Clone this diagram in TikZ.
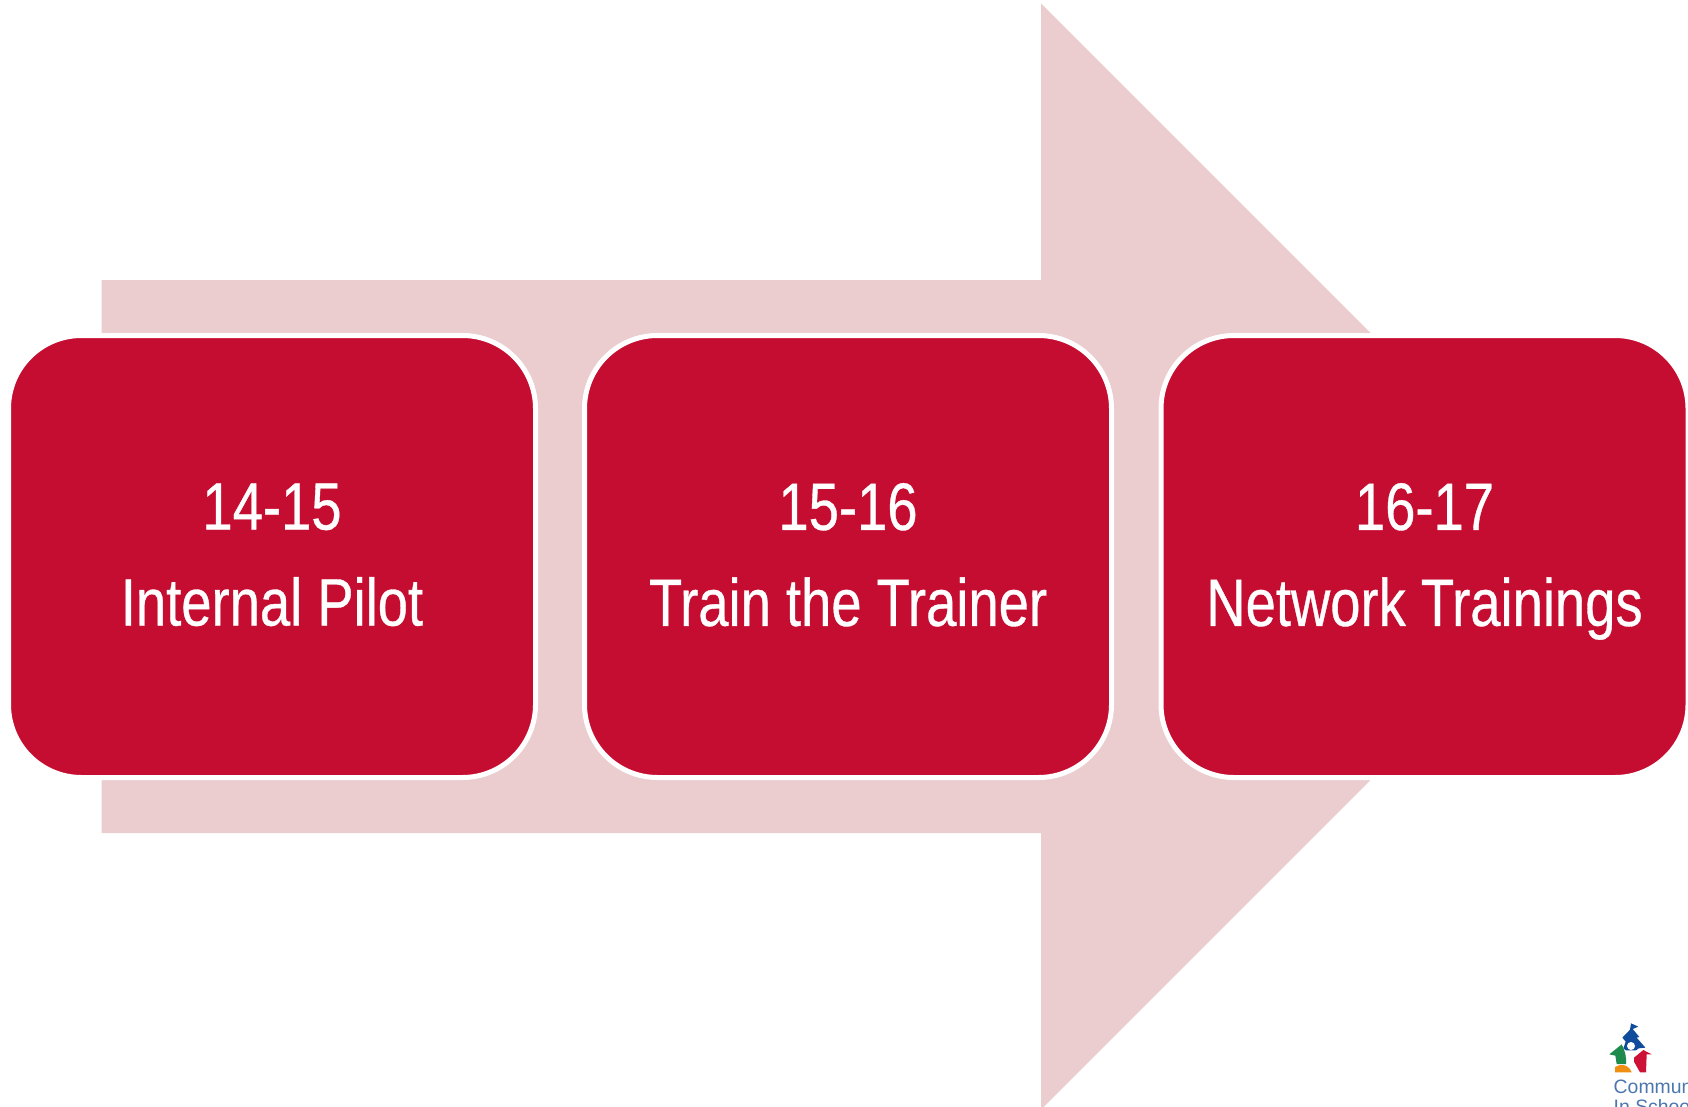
\documentclass[tikz,border=0pt]{standalone}
\usepackage{fontspec}
\setmainfont{Liberation Sans}
\newfontfamily\boxfont[FakeStretch=0.812,FakeBold=0.5]{Liberation Sans}
\newcommand{\boxlines}[2]{#1\\\smash{#2}\rule[-4pt]{0pt}{0pt}}
\definecolor{boxred}{HTML}{C50D31}
\definecolor{arrowpink}{HTML}{EBCDCF}
\definecolor{logoblue}{HTML}{0F4C9C}
\definecolor{logogreen}{HTML}{1E8A4C}
\definecolor{logored}{HTML}{CE1237}
\definecolor{logoorange}{HTML}{EE8F13}
\definecolor{logotext}{HTML}{4B76AE}
\tikzset{
  x=1pt,y=-1pt,
  stagebox/.style={draw=white,line width=5pt,fill=boxred,rounded corners=73pt,
    minimum width=527pt,minimum height=442pt,inner sep=0pt,text=white,
    align=center,font=\boxfont\fontsize{67}{96}\selectfont},
  logotxt/.style={anchor=base west,inner sep=0pt,text=logotext,font=\fontsize{19.4}{20}\selectfont},
}
\begin{document}
\begin{tikzpicture}
\useasboundingbox (0,0) rectangle (1688,1107);
\clip (0,0) rectangle (1688,1107);
\fill[arrowpink] (101.5,280) -- (1041,280) -- (1041,3.5) -- (1594,556.5)
  -- (1041,1109.5) -- (1041,833) -- (101.5,833) -- cycle;
\node[stagebox] (a) at (272,556.5) {\boxlines{14-15}{Internal Pilot}};
\node[stagebox] (b) at (848,556.5) {\boxlines{15-16}{Train the Trainer}};
\node[stagebox] (c) at (1424.5,556.5) {\boxlines{16-17}{Network Trainings}};
% logo
\begin{scope}[shift={(1600,1015)},x=0.3333pt,y=-0.3333pt]
\fill[logoblue] (93,25) -- (115,35) -- (98,42) -- (118,66) -- (110,68) -- (136,98) -- (116,100)
  -- (108,106) -- (78,106) -- (70,100) -- (77,80) -- (67,68) -- (90,44) -- cycle;
\fill[white] (93,93) circle[radius=12];
\fill[logogreen] (28,118) -- (65,88) .. controls (74,105) and (80,125) .. (78,147) -- (50,147) -- (46,122) -- cycle;
\fill[logored] (102,128) -- (130,105) -- (155,118) -- (140,118) -- (138,172) -- (120,172) -- (102,140) -- cycle;
\fill[logoorange] (45,172) -- (45,156) .. controls (60,146) and (85,146) .. (95,172) -- cycle;
\end{scope}
\node[logotxt] (l1) at (1613.5,1093) {Commun};
\node[logotxt] (l2) at (1613.5,1113) {In School};
\end{tikzpicture}
\end{document}
